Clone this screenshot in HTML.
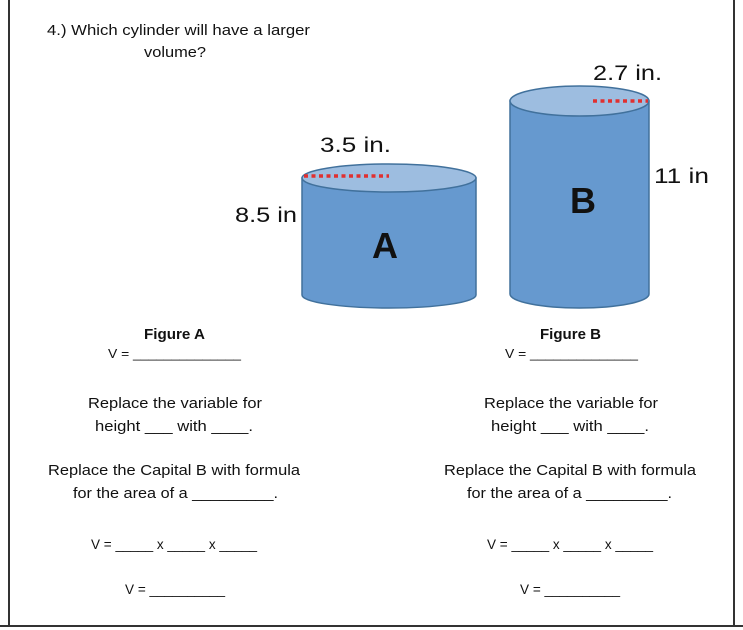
<!DOCTYPE html>
<html><head><meta charset="utf-8"><style>
html,body{margin:0;padding:0;background:#fff;width:743px;height:630px;overflow:hidden}
svg{display:block}
text{font-family:"Liberation Sans",sans-serif;fill:#111}
</style></head><body>
<svg width="743" height="630" viewBox="0 0 743 630" xmlns="http://www.w3.org/2000/svg">
<rect x="0" y="0" width="743" height="630" fill="#fff"/>
<line x1="9" y1="0" x2="9" y2="626" stroke="#333" stroke-width="2"/>
<line x1="734" y1="0" x2="734" y2="626" stroke="#333" stroke-width="2"/>
<line x1="0" y1="626" x2="743" y2="626" stroke="#333" stroke-width="2"/>

<text x="47" y="35" font-size="14.5" textLength="263" lengthAdjust="spacingAndGlyphs">4.)  Which cylinder will have a larger</text>
<text x="144" y="57" font-size="14.5" textLength="62" lengthAdjust="spacingAndGlyphs">volume?</text>

<!-- Cylinder A -->
<g stroke="#41719c" stroke-width="1.5">
<path d="M302 178 L302 295 A87 13 0 0 0 476 295 L476 178 Z" fill="#6699cf"/>
<ellipse cx="389" cy="178" rx="87" ry="14" fill="#9dbde0"/>
</g>
<line x1="304" y1="176" x2="389" y2="176" stroke="#e03030" stroke-width="3.5" stroke-dasharray="4,3.5"/>
<!-- Cylinder B -->
<g stroke="#41719c" stroke-width="1.5">
<path d="M510 101 L510 294 A69.5 14 0 0 0 649 294 L649 101 Z" fill="#6699cf"/>
<ellipse cx="579.5" cy="101" rx="69.5" ry="15" fill="#9dbde0"/>
</g>
<line x1="593" y1="101" x2="648" y2="101" stroke="#e03030" stroke-width="3.5" stroke-dasharray="4,3.5"/>

<text x="320" y="152" font-size="21" textLength="71" lengthAdjust="spacingAndGlyphs" fill="#222">3.5 in.</text>
<text x="593" y="80" font-size="21" textLength="69" lengthAdjust="spacingAndGlyphs" fill="#222">2.7 in.</text>
<text x="235" y="222" font-size="21" textLength="62" lengthAdjust="spacingAndGlyphs" fill="#222">8.5 in</text>
<text x="654" y="183" font-size="21" textLength="55" lengthAdjust="spacingAndGlyphs" fill="#222">11 in</text>
<text x="385" y="258" font-size="36" font-weight="bold" text-anchor="middle" fill="#000">A</text>
<text x="583" y="213" font-size="36" font-weight="bold" text-anchor="middle" fill="#000">B</text>

<g font-size="14.5">
<text x="144" y="339" font-weight="bold" textLength="61" lengthAdjust="spacingAndGlyphs">Figure A</text>
<text x="108" y="358" font-size="13" textLength="133" lengthAdjust="spacingAndGlyphs">V = ______________</text>
<text x="88" y="408" textLength="174" lengthAdjust="spacingAndGlyphs">Replace the variable for</text>
<text x="95" y="431" textLength="158" lengthAdjust="spacingAndGlyphs">height ___ with ____.</text>
<text x="48" y="475" textLength="252" lengthAdjust="spacingAndGlyphs">Replace the Capital B with formula</text>
<text x="73" y="498" textLength="205" lengthAdjust="spacingAndGlyphs">for the area of a _________.</text>
<text x="91" y="549" font-size="13.5" textLength="166" lengthAdjust="spacingAndGlyphs">V = _____ x _____ x _____</text>
<text x="125" y="594" font-size="13.5" textLength="100" lengthAdjust="spacingAndGlyphs">V = __________</text>
</g>
<g font-size="14.5">
<text x="540" y="339" font-weight="bold" textLength="61" lengthAdjust="spacingAndGlyphs">Figure B</text>
<text x="505" y="358" font-size="13" textLength="133" lengthAdjust="spacingAndGlyphs">V = ______________</text>
<text x="484" y="408" textLength="174" lengthAdjust="spacingAndGlyphs">Replace the variable for</text>
<text x="491" y="431" textLength="158" lengthAdjust="spacingAndGlyphs">height ___ with ____.</text>
<text x="444" y="475" textLength="252" lengthAdjust="spacingAndGlyphs">Replace the Capital B with formula</text>
<text x="467" y="498" textLength="205" lengthAdjust="spacingAndGlyphs">for the area of a _________.</text>
<text x="487" y="549" font-size="13.5" textLength="166" lengthAdjust="spacingAndGlyphs">V = _____ x _____ x _____</text>
<text x="520" y="594" font-size="13.5" textLength="100" lengthAdjust="spacingAndGlyphs">V = __________</text>
</g>
</svg>
</body></html>
